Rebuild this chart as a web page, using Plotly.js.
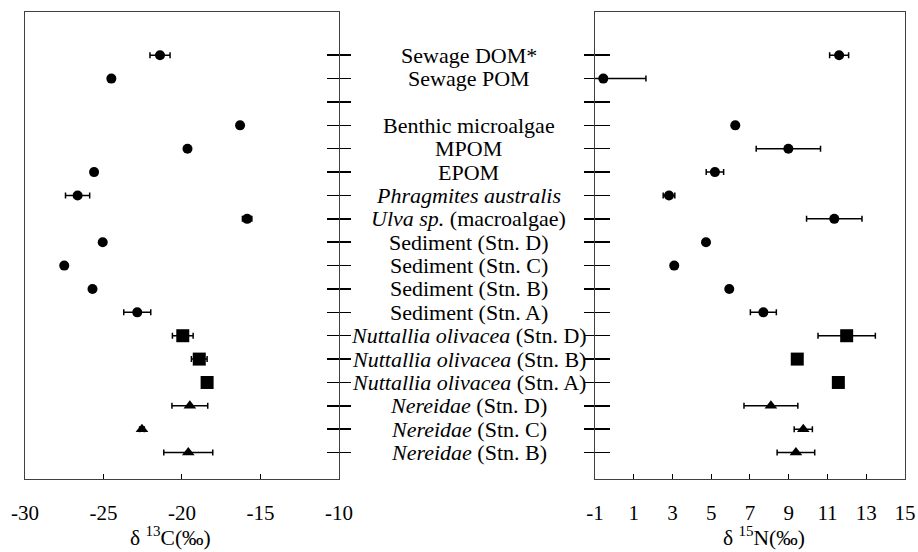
<!DOCTYPE html>
<html>
<head>
<meta charset="utf-8">
<script src="https://cdn.plot.ly/plotly-3.0.1.min.js"></script>
<style>html,body{margin:0;padding:0;background:#fff;}</style>
</head>
<body>
<div id="chart" style="width:918px;height:552px;"></div>
<script>
// Row identifiers (top to bottom); 'gap' is an empty row
const categories = ['Sewage DOM*','Sewage POM','gap','Benthic microalgae','MPOM','EPOM',
  'Phragmites australis','Ulva sp. (macroalgae)','Sediment (Stn. D)','Sediment (Stn. C)',
  'Sediment (Stn. B)','Sediment (Stn. A)','Nuttallia olivacea (Stn. D)','Nuttallia olivacea (Stn. B)',
  'Nuttallia olivacea (Stn. A)','Nereidae (Stn. D)','Nereidae (Stn. C)','Nereidae (Stn. B)'];
const labels = ['Sewage DOM*','Sewage POM','','Benthic microalgae','MPOM','EPOM',
  '<i>Phragmites australis</i>','<i>Ulva sp.</i> (macroalgae)','Sediment (Stn. D)','Sediment (Stn. C)',
  'Sediment (Stn. B)','Sediment (Stn. A)','<i>Nuttallia olivacea</i> (Stn. D)','<i>Nuttallia olivacea</i> (Stn. B)',
  '<i>Nuttallia olivacea</i> (Stn. A)','<i>Nereidae</i> (Stn. D)','<i>Nereidae</i> (Stn. C)','<i>Nereidae</i> (Stn. B)'];
// marker group per row: c = circle (sources), s = square (bivalve), t = triangle (polychaete)
const group = ['c','c','c','c','c','c','c','c','c','c','c','c','s','s','s','t','t','t'];

const d13C    = [-21.4,-24.5,null,-16.3,-19.65,-25.6,-26.65,-15.85,-25.05,-27.5,-25.7,-22.85,-19.95,-18.9,-18.4,-19.5,-22.55,-19.6];
const d13C_sd = [0.64,0.1,null,0.1,0.1,0.15,0.77,0.3,0.15,0.1,0.1,0.86,0.66,0.5,0.1,1.14,0.15,1.56];

const d15N         = [11.6,-0.57,null,6.24,8.98,5.19,2.82,11.35,4.73,3.09,5.93,7.69,11.99,9.44,11.56,8.08,9.75,9.37];
const d15N_sdPlus  = [0.49,2.2,null,0.1,1.66,0.45,0.3,1.43,0.1,0.1,0.1,0.67,1.48,0.2,0.1,1.39,0.47,0.97];
const d15N_sdMinus = [0.49,0.6,null,0.1,1.66,0.45,0.3,1.43,0.1,0.1,0.1,0.67,1.48,0.2,0.1,1.39,0.47,0.97];

const xTicks13 = [-30,-25,-20,-15,-10];
const xTicks15 = [-1,1,3,5,7,9,11,13,15];

const symbols = {c:'circle', s:'square', t:'triangle-up'};
const sizes = {c:10, s:13, t:11};
const FONT = '"Liberation Serif", "Times New Roman", Times, serif';

function pick(arr, g){ return arr.map((v,i)=> group[i]===g ? v : null); }

const traces = [];
['c','s','t'].forEach(g=>{
  traces.push({
    type:'scatter', mode:'markers', xaxis:'x', yaxis:'y', cliponaxis:false,
    x: pick(d13C,g), y: categories,
    marker:{symbol:symbols[g], size:sizes[g], color:'#000'},
    error_x:{type:'data', array: pick(d13C_sd,g), color:'#000', thickness:1.5, width:3},
    showlegend:false, hoverinfo:'x+y'
  });
  traces.push({
    type:'scatter', mode:'markers', xaxis:'x2', yaxis:'y2', cliponaxis:false,
    x: pick(d15N,g), y: categories,
    marker:{symbol:symbols[g], size:sizes[g], color:'#000'},
    error_x:{type:'data', symmetric:false, array: pick(d15N_sdPlus,g), arrayminus: pick(d15N_sdMinus,g), color:'#000', thickness:1.5, width:3},
    showlegend:false, hoverinfo:'x+y'
  });
});
// empty helper traces so the overlay tick axes know the rows
traces.push({type:'scatter', mode:'markers', xaxis:'x', yaxis:'y3', x:categories.map(()=>null), y:categories, showlegend:false, hoverinfo:'skip'});
traces.push({type:'scatter', mode:'markers', xaxis:'x2', yaxis:'y4', x:categories.map(()=>null), y:categories, showlegend:false, hoverinfo:'skip'});

const yRange = [18.13, -1.85];
const frame = '#404040';
const baseY = {type:'category', categoryorder:'array', categoryarray:categories, range:yRange,
  showgrid:false, zeroline:false, showticklabels:false, tickcolor:'#000', tickwidth:1.5, fixedrange:true};

const annotations = labels.map((t,i)=>({
  xref:'paper', yref:'y', x:0.5045, y:categories[i], text:t, showarrow:false,
  xanchor:'center', yanchor:'middle', font:{family:FONT, size:22, color:'#000'}
})).filter((a,i)=>labels[i] !== '');
annotations.push({xref:'paper', yref:'paper', x:0.1659, y:-0.124, xanchor:'center', yanchor:'middle',
  showarrow:false, text:'δ <sup>13</sup>C(‰)', font:{family:FONT, size:21.5, color:'#000'}});
annotations.push({xref:'paper', yref:'paper', x:0.8398, y:-0.124, xanchor:'center', yanchor:'middle',
  showarrow:false, text:'δ <sup>15</sup>N(‰)', font:{family:FONT, size:21.5, color:'#000'}});

const layout = {
  width:918, height:552,
  margin:{l:25, r:13, t:12, b:73},
  paper_bgcolor:'#fff', plot_bgcolor:'#fff',
  font:{family:FONT, color:'#000'},
  showlegend:false,
  xaxis:{domain:[0,0.3568], range:[-30,-10], tickvals:xTicks13, ticktext:xTicks13.map(String),
    ticks:'inside', ticklen:5, tickcolor:'#000', showline:true, linecolor:frame, linewidth:1.2, mirror:true,
    showgrid:false, zeroline:false, anchor:'y', tickfont:{family:FONT, size:21, color:'#000'}, ticklabelstandoff:15},
  xaxis2:{domain:[0.6477,1], range:[-1,15], tickvals:xTicks15, ticktext:xTicks15.map(String),
    ticks:'inside', ticklen:5, tickcolor:'#000', showline:true, linecolor:frame, linewidth:1.2, mirror:true,
    showgrid:false, zeroline:false, anchor:'y2', tickfont:{family:FONT, size:21, color:'#000'}, ticklabelstandoff:15},
  yaxis:Object.assign({}, baseY, {anchor:'x', side:'right', ticks:'outside', ticklen:11,
    showline:true, linecolor:frame, linewidth:1.2, mirror:true}),
  yaxis3:Object.assign({}, baseY, {anchor:'x', overlaying:'y', side:'right', ticks:'inside', ticklen:12, showline:false}),
  yaxis2:Object.assign({}, baseY, {anchor:'x2', side:'left', ticks:'outside', ticklen:10,
    showline:true, linecolor:frame, linewidth:1.2, mirror:true}),
  yaxis4:Object.assign({}, baseY, {anchor:'x2', overlaying:'y2', side:'left', ticks:'inside', ticklen:15, showline:false}),
  annotations: annotations
};

Plotly.newPlot('chart', traces, layout, {displayModeBar:false, staticPlot:true});
</script>
</body>
</html>
